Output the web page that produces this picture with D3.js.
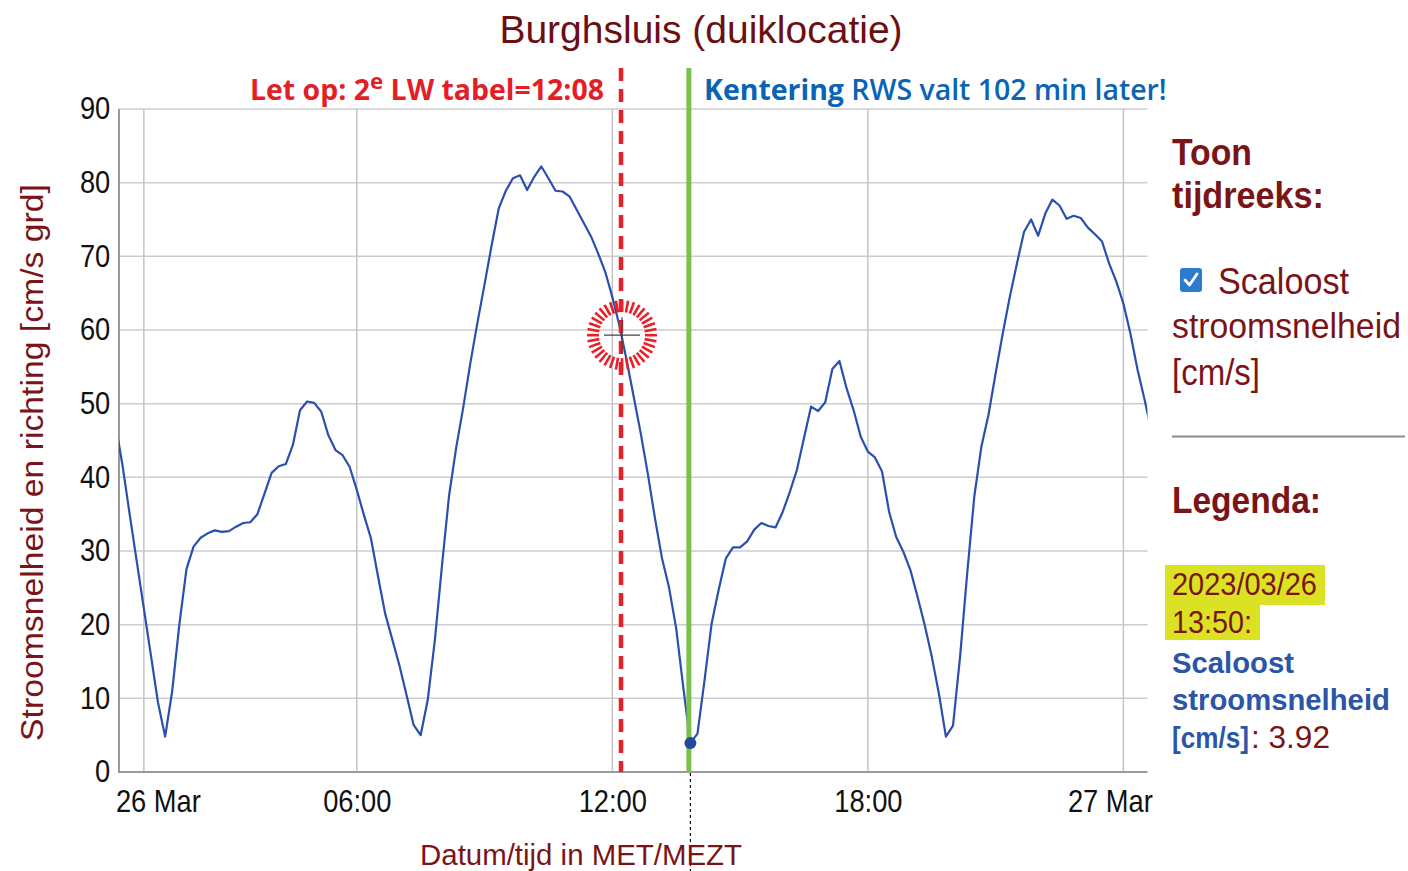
<!DOCTYPE html>
<html><head><meta charset="utf-8">
<script src="https://cdn.jsdelivr.net/npm/d3@7"></script>
<style>html,body{margin:0;padding:0;background:#fff;} svg{display:block;}</style>
</head><body><svg id="chart" width="1408" height="871"></svg>
<script>
// ---------------- data ----------------
const chartTitle = "Burghsluis (duiklocatie)";
const yAxisTitle = "Stroomsnelheid en richting [cm/s grd]";
const xAxisTitle = "Datum/tijd in MET/MEZT";
const seriesStart = "2023-03-25T22:20:00Z"; // 23:20 MET, 26 Mar is the DST switch
const stepMinutes = 10;
const speedValues = [
  47.3, 41.6, 35.0, 28.6, 22.2, 15.8, 9.4, 4.8, 11.0, 20.0,
  27.5, 30.6, 31.8, 32.4, 32.8, 32.6, 32.7, 33.3, 33.8, 33.9,
  35.0, 37.8, 40.6, 41.5, 41.8, 44.4, 49.1, 50.3, 50.1, 48.9,
  45.7, 43.7, 43.0, 41.4, 38.3, 34.9, 31.7, 26.5, 21.5, 18.0,
  14.5, 10.5, 6.4, 5.0, 9.8, 17.9, 28.0, 37.5, 44.0, 49.5,
  55.5, 61.0, 66.2, 71.5, 76.5, 78.9, 80.6, 81.0, 79.0, 80.8,
  82.2, 80.6, 78.9, 78.8, 78.1, 76.3, 74.5, 72.7, 70.4, 67.9,
  64.5, 60.6, 56.0, 51.0, 46.0, 40.5, 34.5, 29.0, 25.0, 19.5,
  11.5, 3.92, 5.2, 12.5, 20.2, 24.8, 29.0, 30.5, 30.5, 31.3,
  32.9, 33.8, 33.4, 33.2, 35.3, 38.0, 41.0, 45.3, 49.6, 49.0,
  50.2, 54.7, 55.8, 52.1, 49.1, 45.5, 43.5, 42.7, 40.8, 35.3,
  31.9, 29.9, 27.4, 23.8, 20.0, 15.7, 10.7, 4.8, 6.3, 15.7,
  27.0, 37.4, 44.2, 48.5, 54.1, 59.5, 64.5, 69.0, 73.3, 75.0,
  72.8, 75.8, 77.7, 76.9, 75.1, 75.5, 75.2, 73.9, 73.0, 72.0,
  69.0, 66.6, 63.6, 59.5, 54.6, 50.5, 46.0
];
const xDomain = ["2023-03-25T22:25:00Z", "2023-03-26T22:34:00Z"];
const xTickTimes = ["2023-03-25T23:00:00Z", "2023-03-26T04:00:00Z", "2023-03-26T10:00:00Z", "2023-03-26T16:00:00Z", "2023-03-26T22:00:00Z"];
const xTickLabels = ["26 Mar", "06:00", "12:00", "18:00", "27 Mar"];
const yTicks = [0, 10, 20, 30, 40, 50, 60, 70, 80, 90];
const lwTableTime = "2023-03-26T10:08:00Z";   // 12:08 MEZT
const kenteringTime = "2023-03-26T11:50:00Z"; // 13:50 MEZT
const markerValue = 59.3;
const hoverIndex = 81;
const noteLW = ["Let op: 2", "e", " LW tabel=12:08"];
const noteKentering = ["Kentering", " RWS valt 102 min later!"];
const panelTitle = ["Toon", "tijdreeks:"];
const panelSeries = ["Scaloost", "stroomsnelheid", "[cm/s]"];
const legendTitle = "Legenda:";
const legendDate = ["2023/03/26", "13:50:"];
const legendSeries = ["Scaloost", "stroomsnelheid", "[cm/s]"];
const legendValue = ": 3.92";

// ---------------- chart ----------------
const svg = d3.select("#chart");
const L = 119, R = 1147.5, T = 109, B = 772;
const DARKRED = "#7a1417", TITLERED = "#6b0f13", BLUE = "#2a55a8";
const FONT = "'Liberation Sans', Arial, sans-serif";
const HAND_OFFSET = 3; // hand-drawn LW marker sits slightly right of its exact time

// squeeze a text (placed at 0,0) horizontally so its width equals len
function fit(t, px, py, len, extra) {
  const w = t.node().getComputedTextLength();
  const s = len ? len / w : 1;
  t.attr("transform", `translate(${px},${py}) ${extra || ""} scale(${s},1)`);
  return t;
}

const t0 = new Date(seriesStart).getTime();
const data = speedValues.map((v, i) => ({ t: new Date(t0 + i * stepMinutes * 60000), v }));

const x = d3.scaleUtc().domain(xDomain.map(d => new Date(d))).range([L, R]);
const y = d3.scaleLinear().domain([0, 90]).range([B, T]);

svg.append("defs").append("clipPath").attr("id", "plotclip")
  .append("rect").attr("x", L).attr("y", T - 2).attr("width", R - L).attr("height", B - T + 4);

// gridlines
svg.append("g").selectAll("line").data(yTicks.filter(d => d > 0)).join("line")
  .attr("x1", L).attr("x2", R).attr("y1", d => y(d)).attr("y2", d => y(d))
  .attr("stroke", "#cdcdcd").attr("stroke-width", 1.5);
svg.append("g").selectAll("line").data(xTickTimes).join("line")
  .attr("x1", d => x(new Date(d))).attr("x2", d => x(new Date(d)))
  .attr("y1", T).attr("y2", B)
  .attr("stroke", "#c4c4c4").attr("stroke-width", 1.5);

// axes
const yAxis = svg.append("g").attr("transform", `translate(${L},0)`)
  .call(d3.axisLeft(y).tickValues(yTicks).tickSize(0).tickPadding(10));
yAxis.select(".domain").remove();
yAxis.selectAll("text").attr("font-family", FONT).attr("font-size", 31).attr("fill", "#111")
  .attr("transform", "scale(0.88,1)");

const xAxis = svg.append("g").attr("transform", `translate(0,${B})`)
  .call(d3.axisBottom(x).tickValues(xTickTimes.map(d => new Date(d)))
    .tickFormat((d, i) => xTickLabels[i]).tickSize(0).tickPadding(18));
xAxis.select(".domain").remove();
xAxis.selectAll("text").attr("font-family", FONT).attr("font-size", 31).attr("fill", "#111")
  .attr("transform", (d, i) => {
    const dx = i === 0 ? 14 : (i === xTickTimes.length - 1 ? -13.5 : 0);
    return `translate(${dx},0) scale(0.88,1)`;
  });

svg.append("line").attr("x1", L).attr("x2", L).attr("y1", T).attr("y2", B + 1)
  .attr("stroke", "#9a9a9a").attr("stroke-width", 2);
svg.append("line").attr("x1", L).attr("x2", R).attr("y1", B).attr("y2", B)
  .attr("stroke", "#9a9a9a").attr("stroke-width", 2);

// series
svg.append("path").datum(data).attr("clip-path", "url(#plotclip)")
  .attr("fill", "none").attr("stroke", "#2c4fae").attr("stroke-width", 2.2)
  .attr("stroke-linejoin", "round")
  .attr("d", d3.line().x(d => x(d.t)).y(d => y(d.v)));

// LW table line (red dashed)
const xLW = x(new Date(lwTableTime)) + HAND_OFFSET;
svg.append("line").attr("x1", xLW).attr("x2", xLW).attr("y1", 68).attr("y2", B)
  .attr("stroke", "#e8202a").attr("stroke-width", 4.5).attr("stroke-dasharray", "13,8");

// kentering line (green)
const xK = x(new Date(kenteringTime));
svg.append("line").attr("x1", xK - 1.5).attr("x2", xK - 1.5).attr("y1", 68).attr("y2", B)
  .attr("stroke", "#79c04c").attr("stroke-width", 5);

// hover guide below axis
const hp = data[hoverIndex];
svg.append("line").attr("x1", x(hp.t)).attr("x2", x(hp.t)).attr("y1", B + 1).attr("y2", 871)
  .attr("stroke", "#111").attr("stroke-width", 1.2).attr("stroke-dasharray", "3,3");

// ring marker
const cx = xLW + 1, cy = y(markerValue);
const ringTicks = d3.range(36);
svg.append("g").selectAll("line").data(ringTicks).join("line")
  .attr("x1", d => cx + 23 * Math.cos(d / 36 * 2 * Math.PI))
  .attr("y1", d => cy + 23 * Math.sin(d / 36 * 2 * Math.PI))
  .attr("x2", d => cx + 35 * Math.cos(d / 36 * 2 * Math.PI))
  .attr("y2", d => cy + 35 * Math.sin(d / 36 * 2 * Math.PI))
  .attr("stroke", "#e8202a").attr("stroke-width", 2.6);
svg.append("line").attr("x1", cx - 18).attr("x2", cx + 18).attr("y1", cy).attr("y2", cy)
  .attr("stroke", "#444").attr("stroke-width", 1.2);
svg.append("line").attr("x1", cx).attr("x2", cx).attr("y1", cy - 18).attr("y2", cy + 18)
  .attr("stroke", "#444").attr("stroke-width", 1.2);

// hover dot
svg.append("circle").attr("cx", x(hp.t)).attr("cy", y(hp.v)).attr("r", 6).attr("fill", "#24489c");

// annotation texts
const ANN = "'Open Sans', 'DejaVu Sans', sans-serif";
const tLW = svg.append("text").attr("font-family", ANN)
  .attr("font-weight", 700).attr("font-size", 28).attr("fill", "#e31e26");
tLW.append("tspan").text(noteLW[0]);
tLW.append("tspan").attr("dy", -11).attr("font-size", 22).text(noteLW[1]);
tLW.append("tspan").attr("dy", 11).text(noteLW[2]);
fit(tLW, 250, 99.5, 354);

const tK = svg.append("text").attr("font-family", ANN)
  .attr("font-size", 28).attr("fill", "#0a63b5");
tK.append("tspan").attr("font-weight", 700).text(noteKentering[0]);
tK.append("tspan").attr("font-weight", 600).text(noteKentering[1]);
fit(tK, 704, 100, 463);

// titles
svg.append("text").attr("x", 701).attr("y", 43).attr("text-anchor", "middle")
  .attr("font-family", FONT).attr("font-size", 39).attr("fill", TITLERED).text(chartTitle);
fit(svg.append("text").attr("text-anchor", "middle")
  .attr("font-family", FONT).attr("font-size", 32).attr("fill", DARKRED).text(yAxisTitle),
  43, 462.5, 557, "rotate(-90)");
fit(svg.append("text").attr("text-anchor", "middle")
  .attr("font-family", FONT).attr("font-size", 30).attr("fill", DARKRED).text(xAxisTitle),
  581, 865, 322);

// right panel
function ptext(str, px, py, size, weight, fill, len) {
  const t = svg.append("text").attr("font-family", FONT)
    .attr("font-size", size).attr("font-weight", weight).attr("fill", fill).text(str);
  return fit(t, px, py, len);
}
ptext(panelTitle[0], 1172, 165, 37, 700, DARKRED, 80);
ptext(panelTitle[1], 1172, 208, 37, 700, DARKRED, 152);
svg.append("rect").attr("x", 1180).attr("y", 268).attr("width", 22).attr("height", 24).attr("rx", 3)
  .attr("fill", "#2f79cf");
svg.append("path").attr("d", "M1185,280 L1189.5,285 L1197,274").attr("fill", "none")
  .attr("stroke", "#fff").attr("stroke-width", 2.8).attr("stroke-linecap", "round").attr("stroke-linejoin", "round");
ptext(panelSeries[0], 1218, 294, 36, 400, DARKRED, 131);
ptext(panelSeries[1], 1172, 338, 36, 400, DARKRED, 229);
ptext(panelSeries[2], 1172, 385, 36, 400, DARKRED, 88);
svg.append("line").attr("x1", 1172).attr("x2", 1405).attr("y1", 436.5).attr("y2", 436.5)
  .attr("stroke", "#8c8c8c").attr("stroke-width", 2);
ptext(legendTitle, 1172, 513, 36, 700, DARKRED, 149);
svg.append("rect").attr("x", 1165).attr("y", 565).attr("width", 160).attr("height", 40).attr("fill", "#dbe123");
svg.append("rect").attr("x", 1165).attr("y", 604).attr("width", 95).attr("height", 36).attr("fill", "#dbe123");
ptext(legendDate[0], 1172, 595, 31, 400, DARKRED, 145);
ptext(legendDate[1], 1172, 633, 31, 400, DARKRED, 80);
ptext(legendSeries[0], 1172, 673, 30, 700, BLUE, 122);
ptext(legendSeries[1], 1172, 710, 30, 700, BLUE, 218);
ptext(legendSeries[2], 1172, 748, 30, 700, BLUE, 77);
ptext(legendValue, 1251, 748, 31, 400, DARKRED, 79);
</script></body></html>
